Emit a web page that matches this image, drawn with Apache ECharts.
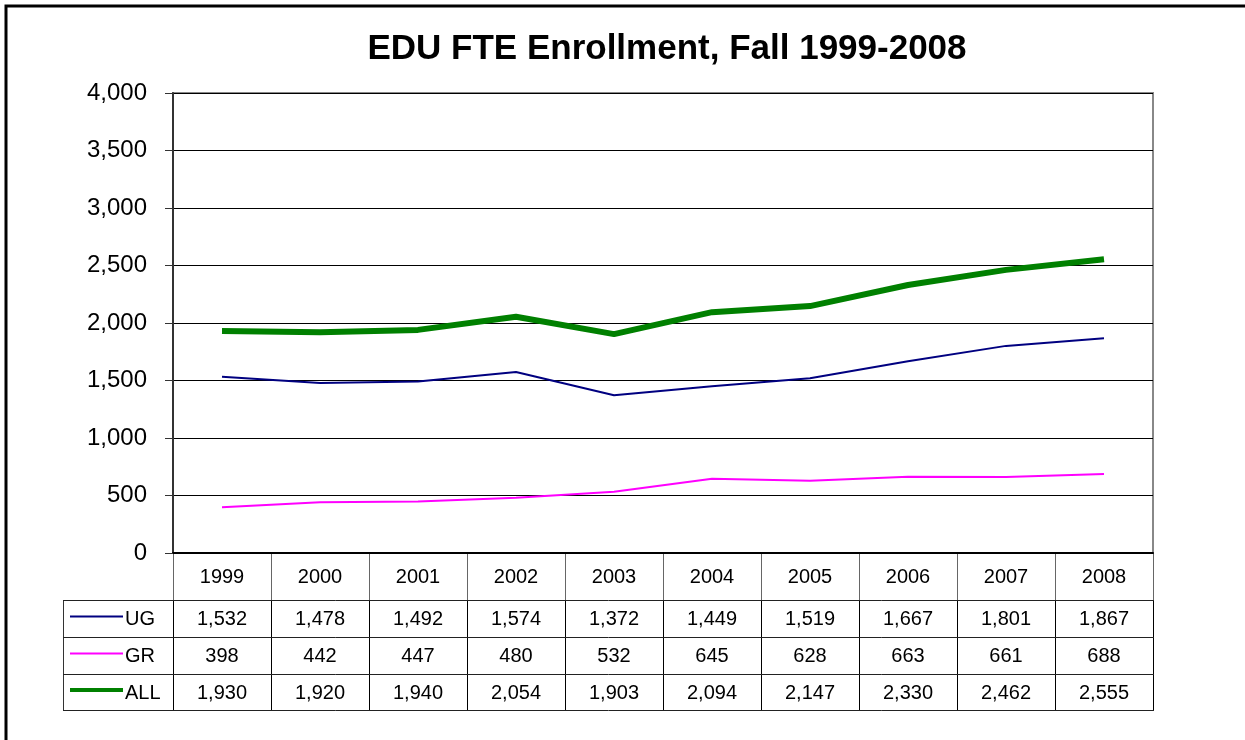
<!DOCTYPE html>
<html>
<head>
<meta charset="utf-8">
<script src="https://cdn.jsdelivr.net/npm/echarts@6/dist/echarts.min.js"></script>
<style>
  html, body { margin: 0; padding: 0; background: #fff; }
  #chart { width: 1245px; height: 740px; }
</style>
</head>
<body>
<div id="chart"></div>
<script>
var years = ['1999', '2000', '2001', '2002', '2003', '2004', '2005', '2006', '2007', '2008'];
var ugData = [1532, 1478, 1492, 1574, 1372, 1449, 1519, 1667, 1801, 1867];
var grData = [398, 442, 447, 480, 532, 645, 628, 663, 661, 688];
var allData = [1930, 1920, 1940, 2054, 1903, 2094, 2147, 2330, 2462, 2555];
var yTicks = [0, 500, 1000, 1500, 2000, 2500, 3000, 3500, 4000];

var seriesInfo = [
  { name: 'UG', data: ugData, color: '#000080', width: 2 },
  { name: 'GR', data: grData, color: '#ff00ff', width: 2 },
  { name: 'ALL', data: allData, color: '#008000', width: 6 }
];

// layout
var W = 1245, H = 740;
var plotL = 173, plotR = 1153, plotT = 93, plotB = 553;
var tableL = 63;
var rowEdges = [553, 600, 637, 674, 710];
var colW = (plotR - plotL) / years.length;
var font = 'Liberation Sans, Arial, sans-serif';

function fmt(v) { return v.toLocaleString('en-US'); }

var graphic = [];
// outer frame
graphic.push({ type: 'rect', shape: { x: 6, y: 6, width: W + 20, height: H + 20 }, style: { fill: null, stroke: '#000', lineWidth: 3 }, silent: true });

function line(x1, y1, x2, y2, color) {
  graphic.push({ type: 'line', shape: { x1: x1, y1: y1, x2: x2, y2: y2 }, style: { stroke: color || '#000', lineWidth: 1 }, silent: true });
}
function text(str, x, y, align) {
  graphic.push({ type: 'text', x: x, y: y, style: { text: str, font: '20px ' + font, fill: '#000', textAlign: align || 'center', textVerticalAlign: 'middle' }, silent: true });
}

// table grid
for (var i = 0; i <= years.length; i++) {
  var x = plotL + i * colW;
  line(x + 0.5, rowEdges[0], x + 0.5, rowEdges[1], '#666');
  line(x + 0.5, rowEdges[1], x + 0.5, rowEdges[4], '#000');
}
line(tableL + 0.5, rowEdges[1], tableL + 0.5, rowEdges[4], '#333');
for (var r = 1; r < rowEdges.length; r++) {
  line(tableL, rowEdges[r] + 0.5, plotR + 1, rowEdges[r] + 0.5, '#222');
}
years.forEach(function (y, i) {
  text(y, plotL + (i + 0.5) * colW, (rowEdges[0] + rowEdges[1]) / 2 + 1);
});
seriesInfo.forEach(function (s, r) {
  var cy = (rowEdges[r + 1] + rowEdges[r + 2]) / 2 + 1;
  graphic.push({ type: 'line', shape: { x1: 70, y1: cy - 3, x2: 123, y2: cy - 3 }, style: { stroke: s.color, lineWidth: s.width === 6 ? 4 : 2 }, silent: true });
  text(s.name, 125, cy, 'left');
  s.data.forEach(function (v, i) {
    text(fmt(v), plotL + (i + 0.5) * colW, cy);
  });
});

var chart = echarts.init(document.getElementById('chart'));
chart.setOption({
  animation: false,
  backgroundColor: '#fff',
  title: {
    text: 'EDU FTE Enrollment, Fall 1999-2008',
    left: 662,
    textAlign: 'center',
    top: 27,
    textStyle: { fontFamily: font, fontSize: 35, fontWeight: 'bold', color: '#000' }
  },
  grid: {
    left: plotL, right: W - plotR, top: plotT, bottom: H - plotB,
    show: true, borderColor: '#888', borderWidth: 2, backgroundColor: '#fff'
  },
  xAxis: {
    type: 'category',
    data: years,
    boundaryGap: true,
    axisLine: { lineStyle: { color: '#000', width: 2 } },
    axisTick: { show: false },
    axisLabel: { show: false }
  },
  yAxis: {
    type: 'value',
    min: yTicks[0],
    max: yTicks[yTicks.length - 1],
    interval: 500,
    axisLine: { show: true, lineStyle: { color: '#333', width: 2 } },
    axisTick: { show: true, length: 8, lineStyle: { color: '#333' } },
    axisLabel: { margin: 26, fontFamily: font, fontSize: 24, color: '#000', formatter: function (v) { return fmt(v); } },
    splitLine: { lineStyle: { color: '#000', width: 1 } }
  },
  series: seriesInfo.map(function (s) {
    return {
      name: s.name,
      type: 'line',
      data: s.data,
      symbol: 'none',
      lineStyle: { color: s.color, width: s.width },
      z: s.name === 'ALL' ? 3 : 2
    };
  }),
  graphic: graphic
});
</script>
</body>
</html>
